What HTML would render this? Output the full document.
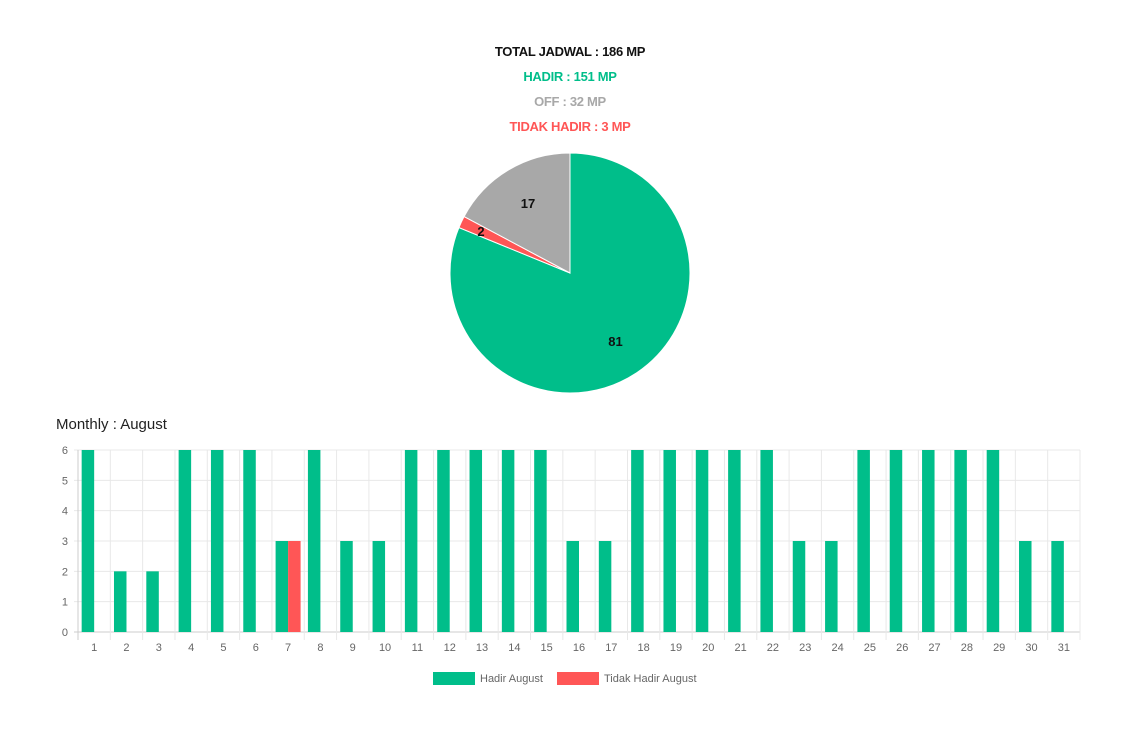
<!DOCTYPE html>
<html><head><meta charset="utf-8"><style>
body{margin:0;background:#fff;width:1140px;height:738px;overflow:hidden;font-family:"Liberation Sans",sans-serif}
.t{position:absolute;left:0;width:1140px;text-align:center;font-weight:bold;font-size:13px;letter-spacing:-0.3px}
</style></head><body>
<div class="t" style="top:44px;color:#111">TOTAL JADWAL : 186 MP</div>
<div class="t" style="top:69px;color:#00be8a">HADIR : 151 MP</div>
<div class="t" style="top:94px;color:#a8a8a8">OFF : 32 MP</div>
<div class="t" style="top:119px;color:#ff5656">TIDAK HADIR : 3 MP</div>
<div style="position:absolute;left:56px;top:416px;font-size:15px;color:#222">Monthly : August</div>
<svg id="s" width="1140" height="738" style="position:absolute;left:0;top:0"></svg>
<script>
const pieLabels=["Hadir","Tidak Hadir","Off"];
const pieValues=[151,3,32];
const pieColors=["#00be8a","#ff5656","#a8a8a8"];
const days=[1,2,3,4,5,6,7,8,9,10,11,12,13,14,15,16,17,18,19,20,21,22,23,24,25,26,27,28,29,30,31];
const hadir=[6,2,2,6,6,6,3,6,3,3,6,6,6,6,6,3,3,6,6,6,6,6,3,3,6,6,6,6,6,3,3];
const tidak=[0,0,0,0,0,0,3,0,0,0,0,0,0,0,0,0,0,0,0,0,0,0,0,0,0,0,0,0,0,0,0];
const yTicks=[0,1,2,3,4,5,6];
const NS="http://www.w3.org/2000/svg",s=document.getElementById('s');
function mk(t,a,p){const e=document.createElementNS(NS,t);for(const k in a)e.setAttribute(k,a[k]);(p||s).appendChild(e);return e;}
// pie
const cx=570,cy=273,R=120,tot=pieValues.reduce((a,b)=>a+b,0);
let ang=-Math.PI/2;
pieValues.forEach((v,i)=>{
 const a2=ang+v/tot*2*Math.PI,large=(a2-ang)>Math.PI?1:0;
 const p=mk('path',{d:`M${cx},${cy}L${cx+R*Math.cos(ang)},${cy+R*Math.sin(ang)}A${R},${R} 0 ${large} 1 ${cx+R*Math.cos(a2)},${cy+R*Math.sin(a2)}Z`,fill:pieColors[i],stroke:'#fff','stroke-width':1});
 
 
 const m=(ang+a2)/2,r=i==1?R*0.82:R*0.68;
 const t=mk('text',{x:cx+r*Math.cos(m),y:cy+r*Math.sin(m)+5,'text-anchor':'middle','font-size':13,'font-weight':'bold',fill:'#111'});
 t.textContent=Math.round(v/tot*100);
 
 
 ang=a2;
});
// bar chart
const x0=78,x1=1080,y0=632,yTop=450,ymax=6;
const cw=(x1-x0)/days.length;
const Y=v=>y0-(v/ymax)*(y0-yTop);
const X=i=>x0+cw*i;
yTicks.forEach(v=>{
 const l=mk('line',{x1:x0-4,x2:x1,y1:Y(v),y2:Y(v),stroke:v==0?'#ccc':'#e8e8e8'});
 
 
 const t=mk('text',{x:x0-10,y:Y(v)+4,'text-anchor':'end','font-size':11,fill:'#666'});t.textContent=v;
 
 
});
for(let i=0;i<=days.length;i++){
 const l=mk('line',{x1:X(i),x2:X(i),y1:yTop,y2:y0+8,stroke:i==0?'#ccc':'#e8e8e8'});
 
 
}
const bw=12.5;
days.forEach((d,i)=>{
 const c=X(i)+cw/2;
 const g=mk('rect',{x:c-bw,y:Y(hadir[i]),width:bw,height:y0-Y(hadir[i]),fill:'#00be8a'});
 
 
 if(tidak[i]>0){const r=mk('rect',{x:c,y:Y(tidak[i]),width:bw,height:y0-Y(tidak[i]),fill:'#ff5656'});
 
 }
 const t=mk('text',{x:c,y:651,'text-anchor':'middle','font-size':11,fill:'#666'});t.textContent=d;
 
 
});
// legend
[[433,'#00be8a','Hadir August'],[557,'#ff5656','Tidak Hadir August']].forEach(([x,c,l])=>{
 const r=mk('rect',{x:x,y:672,width:42,height:13,fill:c});
 
 
 const t=mk('text',{x:x+47,y:682,'font-size':11,fill:'#666'});t.textContent=l;
 
 
});
</script>
</body></html>
